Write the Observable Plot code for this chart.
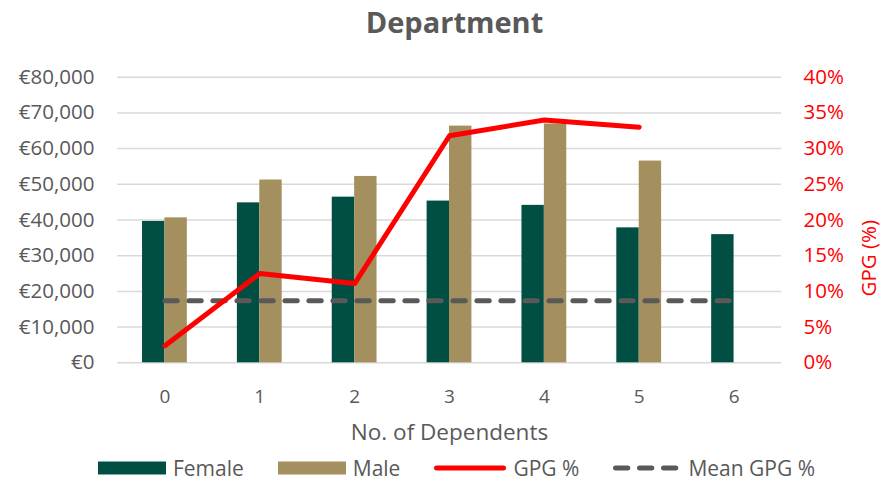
<!DOCTYPE html>
<html>
<head>
<meta charset="utf-8">
<script src="https://cdn.jsdelivr.net/npm/d3@7"></script>
<script src="https://cdn.jsdelivr.net/npm/@observablehq/plot@0.6"></script>
<style>
  html, body { margin: 0; padding: 0; background: #fff; overflow: hidden; }
  #wrap { position: relative; width: 881px; height: 482px; font-family: "Open Sans", sans-serif; }
  #title { position: absolute; left: 0; top: 0; width: 909px; height: 50px; text-align: center;
           font: bold 29px "Open Sans", sans-serif; line-height: 44px; color: #595959; }
  #chart { position: absolute; left: 0; top: 50px; }
  #legend { position: absolute; left: 0; top: 450px; width: 913px; height: 36px; display: flex;
            justify-content: center; align-items: center; font: 21px "Open Sans", sans-serif; color: #595959; }
  .item { display: flex; align-items: center; margin: 0 17px; }
  .item svg { margin-right: 7px; display: block; }
</style>
</head>
<body>
<div id="wrap">
  <div id="title">Department</div>
  <div id="chart"></div>
  <div id="legend"></div>
</div>
<script>
const categories = [0, 1, 2, 3, 4, 5, 6];
const female = [39600, 44800, 46400, 45300, 44100, 37800, 35900];
const male = [40600, 51200, 52200, 66300, 66900, 56500, null];
const gpgPct = [2.4, 12.5, 11.1, 31.8, 34.0, 33.0, null];
const meanGpgPct = 8.7;
const moneyTicks = [0, 10000, 20000, 30000, 40000, 50000, 60000, 70000, 80000];
const pctTicks = [0, 5, 10, 15, 20, 25, 30, 35, 40];

const colors = { female: "#014F42", male: "#A48F5F", gpg: "#FF0000", mean: "#595959" };
const pctToMoney = 80000 / 40;

const femaleData = categories.map((c, i) => ({ c, v: female[i] }));
const maleData = categories.map((c, i) => ({ c, v: male[i] })).filter(d => d.v != null);
const gpgData = categories.map((c, i) => ({ c, v: gpgPct[i] }));
const meanData = categories.map(c => ({ c, v: meanGpgPct }));

const W = 881, H = 400;
const mL = 117, mR = 100, mT = 26.7, mB = 87.7;
const band = (W - mL - mR) / categories.length;
const barW = 22.4;
const half = band / 2;

const chart = Plot.plot({
  width: W, height: H,
  marginLeft: mL, marginRight: mR, marginTop: mT, marginBottom: mB,
  style: { fontFamily: "Open Sans, sans-serif", background: "white" },
  x: { type: "band", domain: categories, padding: 0, round: false },
  y: { domain: [0, 80000] },
  marks: [
    Plot.gridY(moneyTicks, { stroke: "#D9D9D9", strokeOpacity: 1, strokeWidth: 1.5 }),
    Plot.barY(femaleData, { x: "c", y: "v", fill: colors.female, insetLeft: half - barW, insetRight: half }),
    Plot.barY(maleData, { x: "c", y: "v", fill: colors.male, insetLeft: half, insetRight: half - barW }),
    Plot.lineY(meanData, { x: "c", y: d => d.v * pctToMoney, stroke: colors.mean, strokeWidth: 5,
      strokeDasharray: "12.3,11.7", strokeLinecap: "round" }),
    Plot.lineY(gpgData, { x: "c", y: d => d.v == null ? NaN : d.v * pctToMoney, stroke: colors.gpg, strokeWidth: 5,
      strokeLinejoin: "round", strokeLinecap: "round" }),
    Plot.axisY(moneyTicks, { anchor: "left", tickSize: 0, tickPadding: 23, fontSize: 20.5, fill: "#595959",
      tickFormat: d => "€" + d3.format(",")(d), label: null }),
    Plot.axisY(pctTicks.map(p => p * pctToMoney), { anchor: "right", tickSize: 0, tickPadding: 22, fontSize: 20.5,
      fill: colors.gpg, tickFormat: d => (d / pctToMoney) + "%", label: null }),
    Plot.axisX({ tickSize: 0, tickPadding: 27, fontSize: 19, fill: "#595959", label: null }),
    Plot.text(["No. of Dependents"], { frameAnchor: "bottom", dy: 70.4, lineAnchor: "middle",
      fontSize: 22.5, fill: "#595959", text: d => d }),
    Plot.text(["GPG (%)"], { frameAnchor: "right", dx: 88, rotate: -90, lineAnchor: "middle",
      fontSize: 20.5, fill: colors.gpg, text: d => d })
  ]
});
document.getElementById("chart").appendChild(chart);

const legendItems = [
  { label: "Female", kind: "rect", color: colors.female },
  { label: "Male", kind: "rect", color: colors.male },
  { label: "GPG %", kind: "line", color: colors.gpg },
  { label: "Mean GPG %", kind: "dash", color: colors.mean }
];
const legend = document.getElementById("legend");
for (const it of legendItems) {
  const div = document.createElement("div");
  div.className = "item";
  let sw;
  if (it.kind === "rect") {
    sw = `<svg width="68" height="14"><rect x="0" y="0.5" width="68" height="13" fill="${it.color}"/></svg>`;
  } else if (it.kind === "line") {
    sw = `<svg width="72" height="14"><line x1="2.5" x2="69.5" y1="7" y2="7" stroke="${it.color}" stroke-width="5" stroke-linecap="round"/></svg>`;
  } else {
    sw = `<svg width="68" height="14"><line x1="2.5" x2="65.5" y1="7" y2="7" stroke="${it.color}" stroke-width="5" stroke-linecap="round" stroke-dasharray="12.3,11.7"/></svg>`;
  }
  div.innerHTML = sw + `<span>${it.label}</span>`;
  legend.appendChild(div);
}
</script>
</body>
</html>
